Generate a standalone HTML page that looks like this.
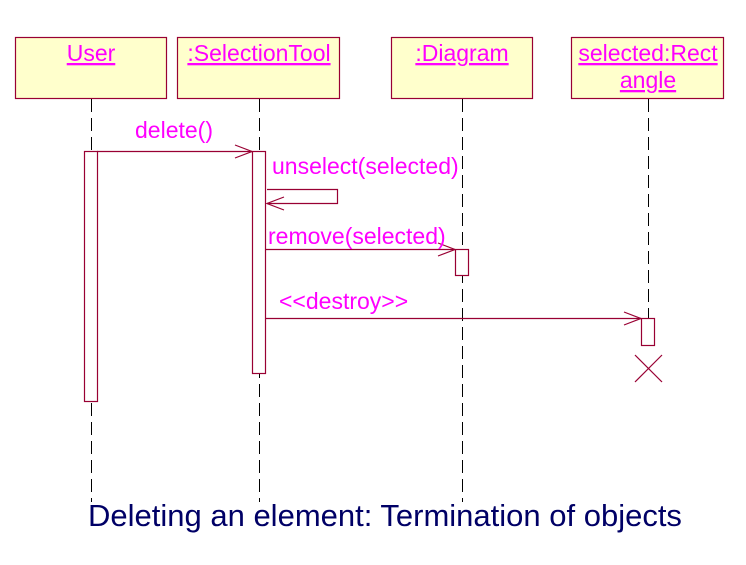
<!DOCTYPE html>
<html><head><style>
body{margin:0;background:#fff;}
svg text{font-family:"Liberation Sans",Arial,sans-serif;}
</style></head><body>
<svg width="746" height="560" xmlns="http://www.w3.org/2000/svg">
<g fill="#ffffcc" stroke="#990033" stroke-width="1.2">
<rect x="15.5" y="37.5" width="151" height="61"/>
<rect x="177.5" y="37.5" width="162" height="61"/>
<rect x="391.5" y="37.5" width="141" height="61"/>
<rect x="571.5" y="37.5" width="152" height="61"/>
</g>
<g stroke="#000" stroke-width="1" stroke-dasharray="13,6">
<line x1="91.5" y1="99" x2="91.5" y2="502"/>
<line x1="259.5" y1="99" x2="259.5" y2="502"/>
<line x1="462.5" y1="99" x2="462.5" y2="502"/>
<line x1="648.5" y1="99" x2="648.5" y2="345"/>
</g>
<g fill="#fff" stroke="#990033" stroke-width="1.2">
<rect x="84.5" y="151.5" width="13" height="250"/>
<rect x="252.5" y="151.5" width="13" height="222"/>
<rect x="455.5" y="249.5" width="13" height="26"/>
<rect x="641.5" y="318.5" width="13" height="27"/>
</g>
<g stroke="#990033" stroke-width="1.2" fill="none">
<line x1="97" y1="151.5" x2="252" y2="151.5"/>
<polyline points="235,145 252,151.5 235,158"/>
<polyline points="267,189.5 337.5,189.5 337.5,203.5 267,203.5"/>
<polyline points="284,197 267,203.5 284,210"/>
<line x1="265" y1="249.5" x2="455" y2="249.5"/>
<polyline points="438,243 455,249.5 438,256"/>
<line x1="265" y1="318.5" x2="641" y2="318.5"/>
<polyline points="624,312 641,318.5 624,325"/>
<line x1="635" y1="355" x2="662" y2="382"/>
<line x1="662" y1="355" x2="635" y2="382"/>
</g>
<g fill="#ff00ff" font-size="23" text-anchor="middle">
<text x="91" y="61" text-decoration="underline">User</text>
<text x="259" y="61" text-decoration="underline">:SelectionTool</text>
<text x="462" y="61" text-decoration="underline">:Diagram</text>
<text x="648" y="61" text-decoration="underline">selected:Rect</text>
<text x="648" y="88" text-decoration="underline">angle</text>
</g>
<g fill="#ff00ff" font-size="23">
<text x="135" y="138">delete()</text>
<text x="272" y="174">unselect(selected)</text>
<text x="268" y="244">remove(selected)</text>
<text x="279" y="309">&lt;&lt;destroy&gt;&gt;</text>
</g>
<text x="88" y="526" font-size="31" fill="#000066">Deleting an element: Termination of objects</text>
</svg>
</body></html>
